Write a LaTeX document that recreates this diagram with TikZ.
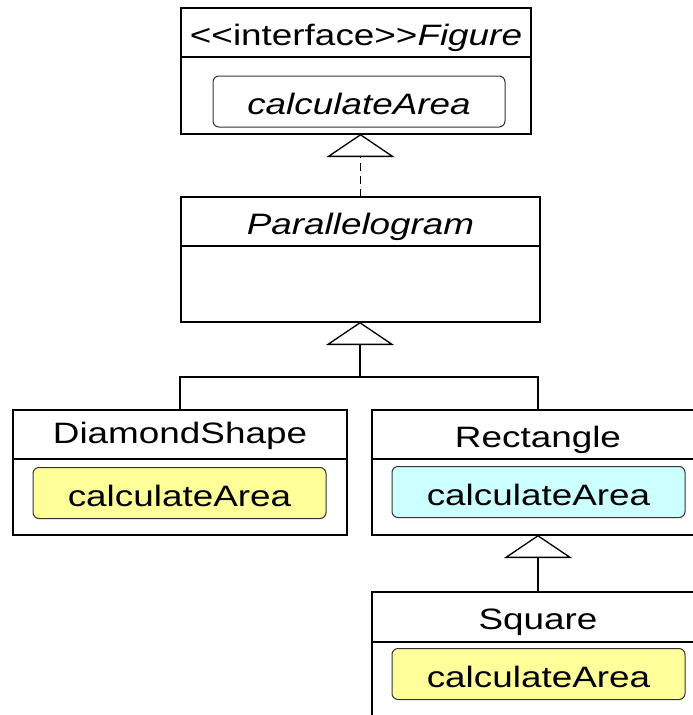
\documentclass[tikz,border=0pt]{standalone}
\usepackage{fontspec}
\setmainfont{Liberation Sans}[FakeStretch=1.25]
\usetikzlibrary{arrows.meta}
\definecolor{yel}{HTML}{FFFF99}
\definecolor{cyn}{HTML}{CCFFFF}
\begin{document}
\begin{tikzpicture}[x=1pt,y=-1pt,
  box/.style={draw=black, line width=1.3pt, fill=white, inner sep=0pt, outer sep=0pt},
  hdr/.style={box, font=\fontsize{29.5}{35}\selectfont, text height=27pt, text depth=2pt},
  meth/.style={draw=black!80, line width=1pt, rounded corners=6pt, inner sep=0pt,
    font=\fontsize{29.5}{35}\selectfont, text height=28pt, text depth=1.5pt, minimum height=51pt},
  gen/.style={line width=1.3pt, -{Triangle[open, width=68pt, length=23pt, line width=1.3pt]}},
  link/.style={line width=1.3pt},
]
\useasboundingbox (0,0) rectangle (693,715);
\clip (0,0) rectangle (693,715);
% Figure
\node[hdr, minimum width=350pt, minimum height=49pt] (figh) at (356,32.5) {<\kern0pt<interface>\kern0pt>\textit{Figure}};
\node[box, minimum width=350pt, minimum height=77pt, anchor=north] (figb) at (figh.south) {};
\node[meth, fill=white, minimum width=292pt] (figm) at (359,101.5) {\textit{calculateArea}};
% Parallelogram
\node[hdr, minimum width=359pt, minimum height=49pt] (parh) at (360.5,221.5) {\textit{Parallelogram}};
\node[box, minimum width=359pt, minimum height=76pt, anchor=north] (parb) at (parh.south) {};
% DiamondShape
\node[hdr, text depth=10pt, minimum width=334pt, minimum height=49pt] (diah) at (180,434.5) {DiamondShape};
\node[box, minimum width=334pt, minimum height=76pt, anchor=north] (diab) at (diah.south) {};
\node[meth, fill=yel, minimum width=293pt] (diam) at (179.5,493) {calculateArea};
% Rectangle
\node[hdr, minimum width=332pt, minimum height=49pt] (rech) at (538,434.5) {Rectangle};
\node[box, minimum width=332pt, minimum height=76pt, anchor=north] (recb) at (rech.south) {};
\node[meth, fill=cyn, minimum width=293pt] (recm) at (538.5,492) {calculateArea};
% Square
\node[hdr, minimum width=332pt, minimum height=50pt] (sqh) at (538,617) {Square};
\node[box, minimum width=332pt, minimum height=90pt, anchor=north] (sqb) at (sqh.south) {};
\node[meth, fill=yel, minimum width=293pt] (sqm) at (538.5,674) {calculateArea};
% connectors
\draw[gen, dash pattern=on 8pt off 5pt] (parh.north) -- (parh.north |- figb.south);
\coordinate (j) at (360,377);
\draw[link] (diah.north) |- (j);
\draw[link] (rech.north) |- (j);
\draw[gen] (j) -- (j |- parb.south);
\draw[gen] (sqh.north) -- (sqh.north |- recb.south);
\end{tikzpicture}
\end{document}
